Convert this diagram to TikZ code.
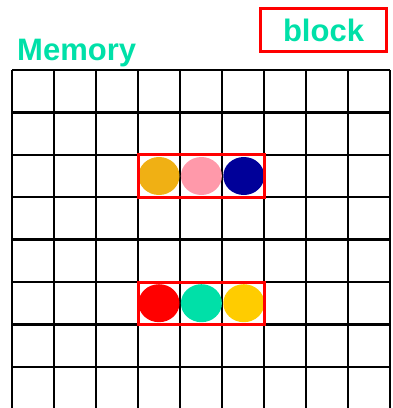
\documentclass[tikz,border=0pt]{standalone}
\usepackage{fontspec}
\setmainfont{Liberation Sans}
\usepackage{tikz}
\usetikzlibrary{positioning,shapes.geometric}
\usepackage{xcolor}
\definecolor{memgreen}{HTML}{00E0A8}
\definecolor{cOrange}{HTML}{F0B014}
\definecolor{cPink}{HTML}{FF99AA}
\definecolor{cNavy}{HTML}{000099}
\definecolor{cRed}{HTML}{FF0000}
\definecolor{cGreen}{HTML}{00E0A8}
\definecolor{cYellow}{HTML}{FFCC00}

\begin{document}
\begin{tikzpicture}[x=1pt, y=-1pt, every node/.style={font=\bfseries\fontsize{31}{31}\selectfont}]
\tikzset{cell/.style={draw=none, ellipse, minimum width=41pt, minimum height=38pt, inner sep=0pt}}
\tikzset{blockbox/.style={draw=red, line width=3pt}}
\useasboundingbox (0,0) rectangle (392,408);
% grid
\foreach \i in {0,...,9}
  \draw[line width=2.4pt] (12+42*\i,70) -- (12+42*\i,408);
\foreach \j in {0,...,7}
  \draw[line width=2.4pt] (12,70+42.4*\j) -- (390,70+42.4*\j);
% titles
\node[text=memgreen, anchor=base west, inner sep=0pt] (mem) at (17,60) {Memory};
\node[blockbox, text=memgreen, minimum width=126pt, minimum height=43pt, inner sep=0pt] (blk) at (323.5,30) {block};
% top block
\node[cell, fill=cOrange] (a1) at (159,176) {};
\node[cell, fill=cPink, right=1pt of a1] (a2) {};
\node[cell, fill=cNavy, right=1pt of a2] (a3) {};
\draw[blockbox] (138,154.8) rectangle (264,197.2);
% bottom block
\node[cell, fill=cRed] (b1) at (159,303.2) {};
\node[cell, fill=cGreen, right=1pt of b1] (b2) {};
\node[cell, fill=cYellow, right=1pt of b2] (b3) {};
\draw[blockbox] (138,282) rectangle (264,324.4);
\end{tikzpicture}
\end{document}
